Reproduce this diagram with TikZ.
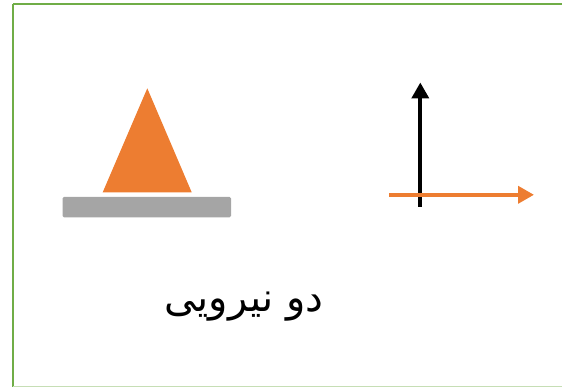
\documentclass[tikz,border=0pt]{standalone}
\usepackage{fontspec}
\newfontfamily\arabicfont[Script=Arabic]{DejaVu Sans}
\TeXXeTstate=1
\usetikzlibrary{arrows.meta}
\definecolor{frame}{HTML}{70AD47}
\definecolor{cone}{HTML}{ED7D31}
\definecolor{base}{HTML}{A5A5A5}
\tikzset{
  vec/.style={line width=3.8pt,-{Triangle[length=16pt,width=17pt]}},
}
\begin{document}
\begin{tikzpicture}[x=1pt,y=-1pt]
\useasboundingbox (0,0) rectangle (562,387);
\begin{scope}
\clip (0,0) rectangle (562,387);
\draw[frame,line width=2.6pt] (13,4) -- (575,4);
\draw[frame,line width=2.6pt] (13,4) -- (13,387);
\draw[frame!40,line width=1.2pt] (13,386.3) -- (575,386.3);
\end{scope}
\fill[base,rounded corners=1.5pt] (62.5,197) rectangle (231,217.3);
\fill[cone] (147.3,88.3) -- (191.7,192.3) -- (102.7,192.3) -- cycle;
\coordinate (vb) at (420.3,207);
\coordinate (vt) at (420.3,82.5);
\coordinate (hb) at (389,194.8);
\coordinate (ht) at (534,194.8);
\draw[vec,black] (vb) -- (vt);
\draw[vec,cone] (hb) -- (ht);
\node[inner sep=0pt,anchor=base] (label) at (244,312) {\fontsize{40pt}{46pt}\selectfont\arabicfont\beginR دو نیرویی\endR};
\end{tikzpicture}
\end{document}
